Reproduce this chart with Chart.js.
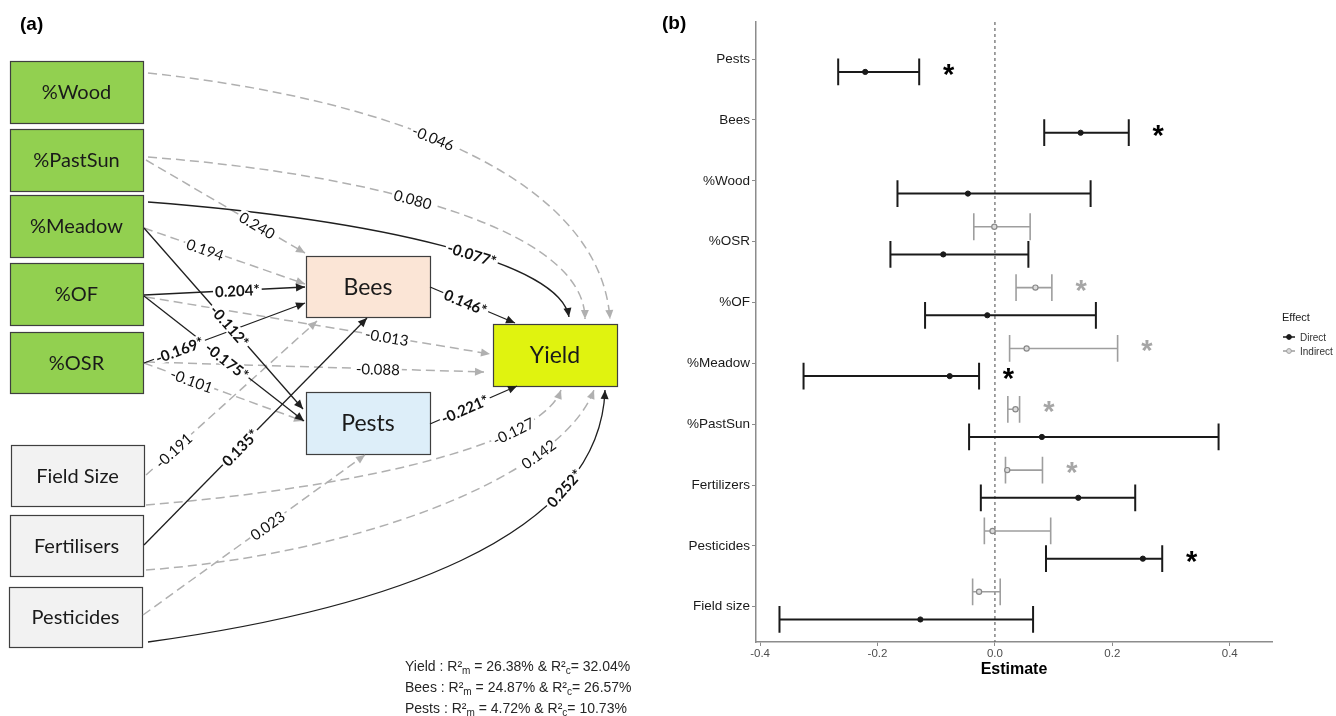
<!DOCTYPE html>
<html>
<head>
<meta charset="utf-8">
<script src="https://cdn.jsdelivr.net/npm/chart.js@4.4.1/dist/chart.umd.min.js"></script>
<style>
body { margin: 0; background: #fff; }
#wrap { position: relative; width: 1336px; height: 716px; }
#pathCanvas { position: absolute; left: 0; top: 0; }
#forestCanvas { position: absolute; left: 660px; top: 0; }
</style>
</head>
<body>
<div id="wrap">
  <canvas id="pathCanvas" width="660" height="716"></canvas>
  <canvas id="forestCanvas" width="676" height="716"></canvas>
</div>
<script>
// ---------- panel (a) : path model ----------
const nodeNames = ['%Wood', '%PastSun', '%Meadow', '%OF', '%OSR', 'Field Size', 'Fertilisers', 'Pesticides', 'Bees', 'Pests', 'Yield'];
const nodeKind = ['land', 'land', 'land', 'land', 'land', 'mgmt', 'mgmt', 'mgmt', 'bees', 'pests', 'yield'];

const edgeFrom = ['%Wood', '%PastSun', '%Meadow', '%OF', '%OSR', 'Bees', 'Pests', 'Field Size', 'Fertilisers', 'Pesticides',
                  '%PastSun', '%Meadow', '%OF', '%OSR', 'Field Size', 'Fertilisers',
                  '%Meadow', '%OF', '%OSR', 'Pesticides'];
const edgeTo = ['Yield', 'Yield', 'Yield', 'Yield', 'Yield', 'Yield', 'Yield', 'Yield', 'Yield', 'Yield',
                'Bees', 'Bees', 'Bees', 'Bees', 'Bees', 'Bees',
                'Pests', 'Pests', 'Pests', 'Pests'];
const edgeCoef = [-0.046, 0.080, -0.077, -0.013, -0.088, 0.146, -0.221, -0.127, 0.142, 0.252,
                  0.240, 0.194, 0.204, -0.169, -0.191, 0.135,
                  -0.112, -0.175, -0.101, 0.023];
const edgeSig = [false, false, true, false, false, true, true, false, false, true,
                 false, false, true, true, false, true,
                 true, true, false, false];

const r2Response = ['Yield', 'Bees', 'Pests'];
const r2Marginal = ['26.38%', '24.87%', '4.72%'];
const r2Conditional = ['32.04%', '26.57%', '10.73%'];

// layout of the diagram (x, y, w, h in diagram units)
const nodeBoxes = [[10, 61, 133, 62], [10, 129, 133, 62], [10, 195, 133, 62], [10, 263, 133, 62], [10, 332, 133, 61],
                   [11, 445, 133, 61], [10, 515, 133, 61], [9, 587, 133, 60],
                   [306, 256, 124, 61], [306, 392, 124, 62], [493, 324, 124, 62]];
const kindFill = { land: '#92d050', mgmt: '#f2f2f2', bees: '#fbe5d6', pests: '#ddeef9', yield: '#e0f30f' };
const kindFont = { land: 20, mgmt: 20, bees: 23, pests: 23, yield: 23 };

const edgePaths = [
  [[148, 73], [400, 100], [600, 180], [610, 319]],
  [[148, 157], [380, 175], [585, 230], [585, 319]],
  [[148, 202], [380, 220], [560, 262], [569, 317]],
  [[146, 297], [490, 354]],
  [[146, 362], [484, 372]],
  [[430, 287], [515, 323]],
  [[430, 424], [517, 386]],
  [[146, 505], [330, 490], [540, 450], [561, 390]],
  [[146, 570], [350, 555], [560, 480], [594, 390]],
  [[148, 642], [380, 610], [600, 540], [605, 390]],
  [[146, 160], [305, 253]],
  [[144, 228], [305, 284]],
  [[144, 295], [305, 287]],
  [[144, 363], [305, 303]],
  [[146, 475], [317, 321]],
  [[144, 545], [367, 318]],
  [[144, 228], [303, 409]],
  [[144, 296], [304, 421]],
  [[144, 363], [303, 421]],
  [[143, 615], [365, 455]]
];
const edgeLabelT = [0.43, 0.42, 0.57, 0.70, 0.686, 0.42, 0.40, 0.75, 0.75, 0.75,
                    0.70, 0.38, 0.58, 0.22, 0.16, 0.43, 0.54, 0.52, 0.30, 0.56];

function bezPoint(p, t) {
  if (p.length === 2) return [p[0][0] + (p[1][0] - p[0][0]) * t, p[0][1] + (p[1][1] - p[0][1]) * t];
  const u = 1 - t;
  const a = u * u * u, b = 3 * t * u * u, c = 3 * t * t * u, d = t * t * t;
  return [a * p[0][0] + b * p[1][0] + c * p[2][0] + d * p[3][0],
          a * p[0][1] + b * p[1][1] + c * p[2][1] + d * p[3][1]];
}
function bezAngle(p, t) {
  const t0 = Math.max(0, t - 0.005), t1 = Math.min(1, t + 0.005);
  const a = bezPoint(p, t0), b = bezPoint(p, t1);
  return Math.atan2(b[1] - a[1], b[0] - a[0]);
}

const pathPlugin = {
  id: 'pathDiagram',
  afterDraw(chart) {
    const ctx = chart.ctx;
    const sx = chart.scales.x, sy = chart.scales.y;
    const P = (pt) => [sx.getPixelForValue(pt[0]), sy.getPixelForValue(pt[1])];
    ctx.save();

    ctx.fillStyle = '#000';
    ctx.font = 'bold 19px "Liberation Sans", Arial';
    ctx.textAlign = 'left';
    ctx.textBaseline = 'alphabetic';
    ctx.fillText('(a)', 20, 30);

    // boxes
    nodeNames.forEach((name, i) => {
      const b = nodeBoxes[i];
      const tl = P([b[0], b[1]]), br = P([b[0] + b[2], b[1] + b[3]]);
      ctx.fillStyle = kindFill[nodeKind[i]];
      ctx.fillRect(tl[0], tl[1], br[0] - tl[0], br[1] - tl[1]);
      ctx.strokeStyle = '#3f3f3f';
      ctx.lineWidth = 1.2;
      ctx.strokeRect(tl[0] + 0.5, tl[1] + 0.5, br[0] - tl[0], br[1] - tl[1]);
      ctx.fillStyle = '#1a1a1a';
      ctx.font = kindFont[nodeKind[i]] + 'px Lato, "Open Sans", sans-serif';
      ctx.textAlign = 'center';
      ctx.textBaseline = 'middle';
      ctx.fillText(name, (tl[0] + br[0]) / 2, (tl[1] + br[1]) / 2 + 1);
    });

    // edges: dashed ones first, solid on top
    const order = edgeCoef.map((c, i) => i).sort((a, b) => (edgeSig[a] ? 1 : 0) - (edgeSig[b] ? 1 : 0));
    order.forEach(i => {
      const p = edgePaths[i].map(P);
      const sig = edgeSig[i];
      const col = sig ? '#1f1f1f' : '#b0b0b0';
      ctx.strokeStyle = col;
      ctx.lineWidth = sig ? 1.3 : 1.5;
      ctx.setLineDash(sig ? [] : [9, 5]);
      ctx.beginPath();
      ctx.moveTo(p[0][0], p[0][1]);
      if (p.length === 4) ctx.bezierCurveTo(p[1][0], p[1][1], p[2][0], p[2][1], p[3][0], p[3][1]);
      else ctx.lineTo(p[1][0], p[1][1]);
      ctx.stroke();
      ctx.setLineDash([]);
      // arrow head
      const e = p[p.length - 1];
      const ang = bezAngle(p, 1);
      const len = 9, half = 4;
      ctx.fillStyle = col;
      ctx.beginPath();
      ctx.moveTo(e[0], e[1]);
      ctx.lineTo(e[0] - len * Math.cos(ang) + half * Math.sin(ang), e[1] - len * Math.sin(ang) - half * Math.cos(ang));
      ctx.lineTo(e[0] - len * Math.cos(ang) - half * Math.sin(ang), e[1] - len * Math.sin(ang) + half * Math.cos(ang));
      ctx.closePath();
      ctx.fill();
    });

    // coefficient labels
    edgeCoef.forEach((c, i) => {
      const p = edgePaths[i].map(P);
      const pos = bezPoint(p, edgeLabelT[i]);
      const ang = bezAngle(p, edgeLabelT[i]);
      const txt = c.toFixed(3) + (edgeSig[i] ? '*' : '');
      ctx.save();
      ctx.translate(pos[0], pos[1]);
      ctx.rotate(ang);
      ctx.font = (edgeSig[i] ? 'bold ' : '') + '15px Lato, "Open Sans", sans-serif';
      const w = ctx.measureText(txt).width;
      ctx.fillStyle = '#fff';
      ctx.fillRect(-w / 2 - 2, -7, w + 4, 14);
      ctx.fillStyle = '#111';
      ctx.textAlign = 'center';
      ctx.textBaseline = 'middle';
      ctx.fillText(txt, 0, 1);
      ctx.restore();
    });

    // R2 notes
    ctx.fillStyle = '#262626';
    ctx.textBaseline = 'alphabetic';
    ctx.textAlign = 'left';
    r2Response.forEach((r, i) => {
      let x = 405;
      const y = 671 + i * 21;
      const parts = [[r + ' : R\u00b2', 14, 0], ['m', 10, 3], [' = ' + r2Marginal[i] + ' & R\u00b2', 14, 0], ['c', 10, 3], ['= ' + r2Conditional[i], 14, 0]];
      parts.forEach(pt => {
        ctx.font = pt[1] + 'px "Liberation Sans", Arial';
        ctx.fillText(pt[0], x, y + pt[2]);
        x += ctx.measureText(pt[0]).width;
      });
    });
    ctx.restore();
  }
};

new Chart(document.getElementById('pathCanvas'), {
  type: 'scatter',
  data: { datasets: [{ data: [], pointRadius: 0 }] },
  options: {
    responsive: false,
    animation: false,
    layout: { padding: 0 },
    plugins: { legend: { display: false }, tooltip: { enabled: false } },
    scales: {
      x: { type: 'linear', min: 0, max: 660, display: false },
      y: { type: 'linear', min: 0, max: 716, reverse: true, display: false }
    }
  },
  plugins: [pathPlugin]
});

// ---------- panel (b) : direct / indirect effects ----------
const categories = ['Pests', 'Bees', '%Wood', '%OSR', '%OF', '%Meadow', '%PastSun', 'Fertilizers', 'Pesticides', 'Field size'];
const directEst = [-0.221, 0.146, -0.046, -0.088, -0.013, -0.077, 0.080, 0.142, 0.252, -0.127];
const directLow = [-0.267, 0.084, -0.166, -0.178, -0.119, -0.326, -0.044, -0.024, 0.087, -0.367];
const directHigh = [-0.129, 0.228, 0.163, 0.057, 0.172, -0.027, 0.381, 0.239, 0.285, 0.065];
const directSig = [true, true, false, false, false, true, false, false, true, false];
const indirectEst = [null, null, null, -0.001, 0.069, 0.054, 0.035, 0.021, -0.004, -0.027];
const indirectLow = [null, null, null, -0.036, 0.036, 0.025, 0.022, 0.018, -0.018, -0.038];
const indirectHigh = [null, null, null, 0.060, 0.097, 0.209, 0.042, 0.081, 0.095, 0.009];
const indirectSig = [false, false, false, false, true, true, true, true, false, false];
const xTickVals = [-0.4, -0.2, 0, 0.2, 0.4];
const xTickLabels = ['-0.4', '-0.2', '0.0', '0.2', '0.4'];

const directOff = 0.21, indirectOff = -0.245, capH = 0.22;
const directCol = '#1a1a1a', indirectCol = '#9e9e9e';

function errorBarData(low, high, off) {
  const pts = [];
  low.forEach((lo, i) => {
    if (lo === null) return;
    const y = i + 1 + off, hi = high[i];
    pts.push({ x: lo, y: y }, { x: hi, y: y }, { x: hi, y: null });
    pts.push({ x: lo, y: y - capH }, { x: lo, y: y + capH }, { x: lo, y: null });
    pts.push({ x: hi, y: y - capH }, { x: hi, y: y + capH }, { x: hi, y: null });
  });
  return pts;
}
function pointData(est, off) {
  const pts = [];
  est.forEach((v, i) => { if (v !== null) pts.push({ x: v, y: i + 1 + off }); });
  return pts;
}

const forestPlugin = {
  id: 'forestExtras',
  afterDatasetsDraw(chart) {
    const ctx = chart.ctx;
    const sx = chart.scales.x, sy = chart.scales.y;
    ctx.save();
    ctx.textAlign = 'center';
    ctx.textBaseline = 'alphabetic';
    directSig.forEach((s, i) => {
      if (!s) return;
      ctx.font = 'bold 29px "Liberation Sans", Arial';
      ctx.fillStyle = '#000';
      ctx.fillText('*', sx.getPixelForValue(directHigh[i] + 0.05), sy.getPixelForValue(i + 1 + directOff) + 12);
    });
    indirectSig.forEach((s, i) => {
      if (!s) return;
      ctx.font = 'bold 29px "Liberation Sans", Arial';
      ctx.fillStyle = '#a6a6a6';
      ctx.fillText('*', sx.getPixelForValue(indirectHigh[i] + 0.05), sy.getPixelForValue(i + 1 + indirectOff) + 12);
    });
    ctx.restore();
  },
  afterDraw(chart) {
    const ctx = chart.ctx;
    const area = chart.chartArea;
    ctx.save();
    ctx.fillStyle = '#000';
    ctx.textAlign = 'left';
    ctx.textBaseline = 'alphabetic';
    ctx.font = 'bold 19px "Liberation Sans", Arial';
    ctx.fillText('(b)', 2, 29);

    ctx.textAlign = 'center';
    ctx.font = 'bold 16px "Liberation Sans", Arial';
    ctx.fillText('Estimate', (area.left + area.right) / 2, 674);

    // legend
    const lx = area.right + 10;
    ctx.textAlign = 'left';
    ctx.font = '11px "Liberation Sans", Arial';
    ctx.fillStyle = '#1a1a1a';
    ctx.fillText('Effect', lx, 321);
    const keys = [['Direct', directCol, directCol], ['Indirect', indirectCol, '#dcdcdc']];
    keys.forEach((k, j) => {
      const ky = 337 + j * 14;
      ctx.strokeStyle = k[1];
      ctx.lineWidth = 1.5;
      ctx.beginPath();
      ctx.moveTo(lx + 1, ky);
      ctx.lineTo(lx + 13, ky);
      ctx.stroke();
      ctx.beginPath();
      ctx.arc(lx + 7, ky, 2.4, 0, Math.PI * 2);
      ctx.fillStyle = k[2];
      ctx.fill();
      ctx.strokeStyle = k[1];
      ctx.lineWidth = 1;
      ctx.stroke();
      ctx.fillStyle = '#333';
      ctx.font = '10px "Liberation Sans", Arial';
      ctx.fillText(k[0], lx + 18, ky + 4);
    });
    ctx.restore();
  }
};

new Chart(document.getElementById('forestCanvas'), {
  type: 'scatter',
  data: {
    datasets: [
      { label: 'Direct', data: pointData(directEst, directOff), pointRadius: 2.6, pointBackgroundColor: directCol, pointBorderColor: directCol, order: 0 },
      { label: 'Indirect', data: pointData(indirectEst, indirectOff), pointRadius: 2.6, pointBackgroundColor: '#dcdcdc', pointBorderColor: '#8a8a8a', pointBorderWidth: 1.2, order: 1 },
      { type: 'line', label: 'Direct CI', data: errorBarData(directLow, directHigh, directOff), borderColor: directCol, borderWidth: 2, pointRadius: 0, spanGaps: false, order: 2 },
      { type: 'line', label: 'Indirect CI', data: errorBarData(indirectLow, indirectHigh, indirectOff), borderColor: indirectCol, borderWidth: 1.6, pointRadius: 0, spanGaps: false, order: 3 },
      { type: 'line', label: 'zero', data: [{ x: 0, y: 0.39 }, { x: 0, y: 10.58 }], borderColor: '#666', borderWidth: 1.2, borderDash: [3, 3], pointRadius: 0, order: 4 }
    ]
  },
  options: {
    responsive: false,
    animation: false,
    layout: { padding: { top: 22, right: 64, left: 0, bottom: 0 } },
    plugins: { legend: { display: false }, tooltip: { enabled: false } },
    scales: {
      x: {
        type: 'linear', min: -0.407, max: 0.472,
        afterBuildTicks: s => { s.ticks = xTickVals.map(v => ({ value: v })); },
        afterFit: s => { s.height = 74; },
        ticks: {
          callback: (v, i) => xTickLabels[i],
          color: '#4d4d4d', font: { family: 'Liberation Sans', size: 11.5 }, padding: 1, maxRotation: 0, autoSkip: false
        },
        grid: { drawOnChartArea: false, drawTicks: true, tickLength: 4, color: '#8c8c8c' },
        border: { display: true, color: '#8c8c8c', width: 1.5 }
      },
      y: {
        type: 'linear', min: 0.39, max: 10.58, reverse: true,
        afterBuildTicks: s => { s.ticks = categories.map((c, i) => ({ value: i + 1 })); },
        afterFit: s => { s.width = 96; },
        ticks: {
          callback: (v, i) => categories[i],
          color: '#1a1a1a', font: { family: 'Liberation Sans', size: 13.5 }, padding: 2, autoSkip: false
        },
        grid: { drawOnChartArea: false, drawTicks: true, tickLength: 4, color: '#8c8c8c' },
        border: { display: true, color: '#8c8c8c', width: 1.5 }
      }
    }
  },
  plugins: [forestPlugin]
});
</script>
</body>
</html>
